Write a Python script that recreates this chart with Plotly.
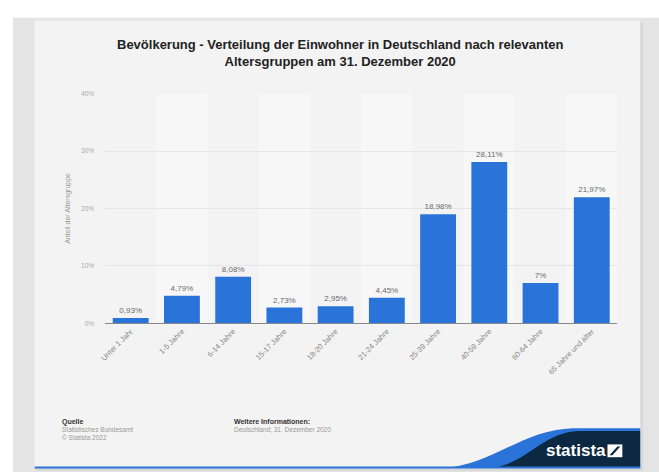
import plotly.graph_objects as go

# Age groups and their share of the population (%)
categories = ["Unter 1 Jahr", "1-5 Jahre", "6-14 Jahre", "15-17 Jahre", "18-20 Jahre",
              "21-24 Jahre", "25-39 Jahre", "40-59 Jahre", "60-64 Jahre", "65 Jahre und älter"]
shares = [0.93, 4.79, 8.08, 2.73, 2.95, 4.45, 18.98, 28.11, 7.0, 21.97]
labels = ["0,93%", "4,79%", "8,08%", "2,73%", "2,95%", "4,45%", "18,98%", "28,11%", "7%", "21,97%"]
y_ticks = [0, 10, 20, 30, 40]
y_tick_text = ["0%", "10%", "20%", "30%", "40%"]

W, H = 659, 475
BLUE = "#2a74d9"
NAVY = "#0d2841"
FONT = "Liberation Sans, Arial, sans-serif"


def px(x):
    return x / W


def py(y):
    return 1 - y / H


fig = go.Figure()

fig.add_trace(go.Bar(
    x=categories, y=shares, text=labels, textposition="outside",
    textfont=dict(size=8, color="#6a6a6a", family=FONT),
    marker=dict(color=BLUE, line=dict(width=0)),
    cliponaxis=False, width=0.7, hoverinfo="skip",
))

shapes = []
# outer frame and card
shapes.append(dict(type="rect", xref="paper", yref="paper", x0=px(7), x1=px(659), y0=py(475), y1=py(14),
                   fillcolor="#e4e4e4", line=dict(width=0), layer="below"))
shapes.append(dict(type="rect", xref="paper", yref="paper", x0=px(30), x1=px(643), y0=py(474), y1=py(18),
                   fillcolor="#d9d9d9", line=dict(width=0), layer="below"))
shapes.append(dict(type="rect", xref="paper", yref="paper", x0=px(29), x1=px(640), y0=py(471), y1=py(17),
                   fillcolor="#f3f3f3", line=dict(width=0), layer="below"))
# alternating column bands
for i in range(1, len(categories), 2):
    shapes.append(dict(type="rect", xref="x", yref="y", x0=i - 0.5, x1=i + 0.5, y0=0, y1=40,
                       fillcolor="#f7f7f7", line=dict(width=0), layer="below"))
# footer wave and logo
shapes.append(dict(type="path", xref="paper", yref="paper",
                   path=f"M {px(440)},{py(471)} C {px(490)},{py(469)} {px(520)},{py(432)} {px(572)},{py(430.5)} "
                        f"L {px(640)},{py(430.5)} L {px(640)},{py(471)} Z",
                   fillcolor=BLUE, line=dict(width=0)))
shapes.append(dict(type="path", xref="paper", yref="paper",
                   path=f"M {px(488)},{py(471)} C {px(525)},{py(468)} {px(540)},{py(435)} {px(578)},{py(433.5)} "
                        f"L {px(640)},{py(433.5)} L {px(640)},{py(471)} Z",
                   fillcolor=NAVY, line=dict(width=0)))
shapes.append(dict(type="line", xref="paper", yref="paper", x0=px(29), x1=px(640), y0=py(470.5), y1=py(470.5),
                   line=dict(color=BLUE, width=2)))
# logo icon
shapes.append(dict(type="rect", xref="paper", yref="paper", x0=px(607), x1=px(622), y0=py(460), y1=py(447),
                   fillcolor="white", line=dict(width=0)))
shapes.append(dict(type="path", xref="paper", yref="paper",
                   path=f"M {px(609)},{py(458)} L {px(617)},{py(449)} L {px(620)},{py(449)} L {px(612)},{py(458)} Z",
                   fillcolor=NAVY, line=dict(width=0)))

annotations = [
    dict(text="<b>Bevölkerung - Verteilung der Einwohner in Deutschland nach relevanten<br>"
              "Altersgruppen am 31. Dezember 2020</b>",
         xref="paper", yref="paper", x=px(337), y=py(49.5), xanchor="center", yanchor="middle",
         showarrow=False, font=dict(size=13, color="#222222", family=FONT), align="center"),
    dict(text="Anteil der Altersgruppe", xref="paper", yref="paper", x=px(63), y=py(207.5),
         textangle=-90, showarrow=False, font=dict(size=7, color="#999999", family=FONT),
         xanchor="center", yanchor="middle"),
    dict(text="<b>Quelle</b>", xref="paper", yref="paper", x=px(54), y=py(424), xanchor="left",
         yanchor="middle", showarrow=False, font=dict(size=7, color="#333333", family=FONT)),
    dict(text="Statistisches Bundesamt<br>© Statista 2022", xref="paper", yref="paper", x=px(54), y=py(436),
         xanchor="left", yanchor="middle", showarrow=False, align="left",
         font=dict(size=6.5, color="#999999", family=FONT)),
    dict(text="<b>Weitere Informationen:</b>", xref="paper", yref="paper", x=px(228), y=py(424),
         xanchor="left", yanchor="middle", showarrow=False, font=dict(size=7, color="#333333", family=FONT)),
    dict(text="Deutschland; 31. Dezember 2020", xref="paper", yref="paper", x=px(228), y=py(432),
         xanchor="left", yanchor="middle", showarrow=False, font=dict(size=6.5, color="#999999", family=FONT)),
    dict(text="<b>statista</b>", xref="paper", yref="paper", x=px(575), y=py(453),
         xanchor="center", yanchor="middle", showarrow=False, font=dict(size=17, color="white", family=FONT)),
]

fig.update_layout(
    width=W, height=H, margin=dict(l=0, r=0, t=0, b=0),
    paper_bgcolor="white", plot_bgcolor="rgba(0,0,0,0)",
    showlegend=False, shapes=shapes, annotations=annotations,
    font=dict(family=FONT),
    xaxis=dict(domain=[px(100), px(617)], tickangle=-45, showgrid=False,
               showline=True, linecolor="#888888", linewidth=1,
               tickfont=dict(size=7.5, color="#888888", family=FONT), ticks=""),
    yaxis=dict(domain=[py(324), py(91)], range=[0, 40], tickvals=y_ticks, ticktext=y_tick_text,
               showgrid=True, gridcolor="#e6e6e6", gridwidth=1, zeroline=False,
               tickfont=dict(size=6.5, color="#aaaaaa", family=FONT), ticklabelstandoff=10),
    bargap=0.3,
)

fig.write_html("out.html")
